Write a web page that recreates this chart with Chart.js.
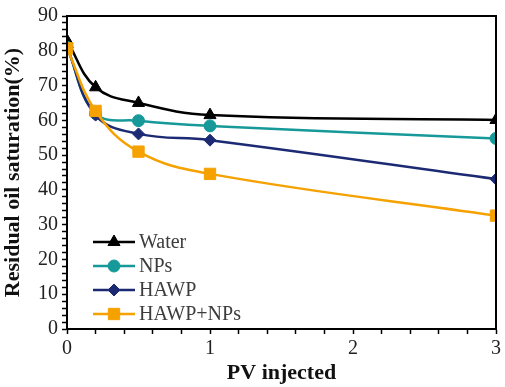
<!DOCTYPE html>
<html>
<head>
<meta charset="utf-8">
<script src="https://cdn.jsdelivr.net/npm/chart.js@4/dist/chart.umd.min.js"></script>
<style>
  html, body { margin: 0; padding: 0; background: #fff; }
  #wrap { width: 505px; height: 387px; }
</style>
</head>
<body>
<div id="wrap"><canvas id="c"></canvas></div>
<script>
"use strict";

// PV injected values
var pv = [0, 0.2, 0.5, 1, 3];

// residual oil saturation (%)
var water = [82.9, 69.5, 65.0, 61.5, 60.1];
var nps = [81.0, 62.0, 59.9, 58.4, 54.8];
var hawp = [81.0, 61.5, 56.1, 54.3, 43.1];
var hawpNps = [80.7, 62.7, 51.0, 44.6, 32.6];

var seriesNames = ['Water', 'NPs', 'HAWP', 'HAWP+NPs'];
var seriesColors = ['#000000', '#17999a', '#1c2a73', '#f5a100'];
var seriesMarkers = ['triangle', 'circle', 'rectRot', 'rect'];
var markerSizes = [7, 6, 6, 8];

function pts(vals) {
	return pv.map(function(x, i) { return { x: x, y: vals[i] }; });
}

var allSeries = [water, nps, hawp, hawpNps];

// box round the plot area
var boxPlugin = {
	id: 'box',
	afterDraw: function(chart) {
		var a = chart.chartArea, ctx = chart.ctx;
		ctx.save();
		ctx.strokeStyle = '#000';
		ctx.lineWidth = 2;
		ctx.strokeRect(a.left, a.top, a.right - a.left, a.bottom - a.top);
		ctx.restore();
	}
};

// legend drawn inside the plot, lower left, in series order
var legendPlugin = {
	id: 'insideLegend',
	afterDraw: function(chart) {
		var a = chart.chartArea, ctx = chart.ctx;
		ctx.save();
		seriesNames.forEach(function(name, i) {
			var y = a.bottom - 87 + i * 24;
			var x0 = a.left + 26, x1 = a.left + 68;
			ctx.strokeStyle = seriesColors[i];
			ctx.lineWidth = 2.5;
			ctx.beginPath();
			ctx.moveTo(x0, y);
			ctx.lineTo(x1, y);
			ctx.stroke();
			ctx.fillStyle = seriesColors[i];
			ctx.lineWidth = 1;
			Chart.helpers.drawPoint(ctx, { pointStyle: seriesMarkers[i], radius: markerSizes[i], borderWidth: 1 }, (x0 + x1) / 2, y);
			ctx.fillStyle = '#3c3c3c';
			ctx.font = '20px "Liberation Serif", serif';
			ctx.textAlign = 'left';
			ctx.textBaseline = 'middle';
			ctx.fillText(name, x1 + 4, y + 1);
		});
		ctx.restore();
	}
};

var ctx = document.getElementById('c').getContext('2d');
var chart = new Chart(ctx, {
	type: 'line',
	data: {
		// reversed so that HAWP+NPs is drawn on top, as in the picture
		datasets: allSeries.map(function(vals, i) {
			return {
				label: seriesNames[i],
				data: pts(vals),
				borderColor: seriesColors[i],
				backgroundColor: seriesColors[i],
				borderWidth: 2.5,
				pointStyle: seriesMarkers[i],
				pointRadius: markerSizes[i],
				pointBorderWidth: 1,
				tension: 0.4,
				fill: false
			};
		}).reverse()
	},
	plugins: [boxPlugin, legendPlugin],
	options: {
		responsive: true,
		maintainAspectRatio: false,
		animation: false,
		layout: { padding: { top: 10, right: 8, left: 0, bottom: 0 } },
		plugins: {
			legend: { display: false },
			tooltip: { enabled: false }
		},
		scales: {
			x: {
				type: 'linear',
				min: 0,
				max: 3,
				afterFit: function(s) { s.height = 58; },
				ticks: {
					stepSize: 0.2,
					autoSkip: false,
					maxRotation: 0,
					padding: 3,
					color: '#222',
					font: { family: '"Liberation Serif", serif', size: 20 },
					callback: function(v) {
						return Math.abs(v - Math.round(v)) < 1e-6 ? String(Math.round(v)) : '';
					}
				},
				grid: { drawOnChartArea: false, tickLength: 5, tickColor: '#000', tickWidth: 1.5 },
				border: { color: '#000', width: 2 },
				title: {
					display: true,
					text: 'PV injected',
					color: '#111',
					padding: { top: -6, bottom: 0 },
					font: { family: '"Liberation Serif", serif', size: 22, weight: 'bold' }
				}
			},
			y: {
				min: 0,
				max: 90,
				afterFit: function(s) { s.width = 67; },
				ticks: {
					stepSize: 2,
					autoSkip: false,
					padding: 4,
					color: '#222',
					font: { family: '"Liberation Serif", serif', size: 20 },
					callback: function(v) { return v % 10 === 0 ? String(v) : ''; }
				},
				grid: { drawOnChartArea: false, tickLength: 5, tickColor: '#000', tickWidth: 1.5 },
				border: { color: '#000', width: 2 },
				title: {
					display: true,
					text: 'Residual oil saturation(%)',
					color: '#111',
					padding: { top: 0, bottom: 0 },
					font: { family: '"Liberation Serif", serif', size: 22, weight: 'bold' }
				}
			}
		}
	}
});
</script>
</body>
</html>
